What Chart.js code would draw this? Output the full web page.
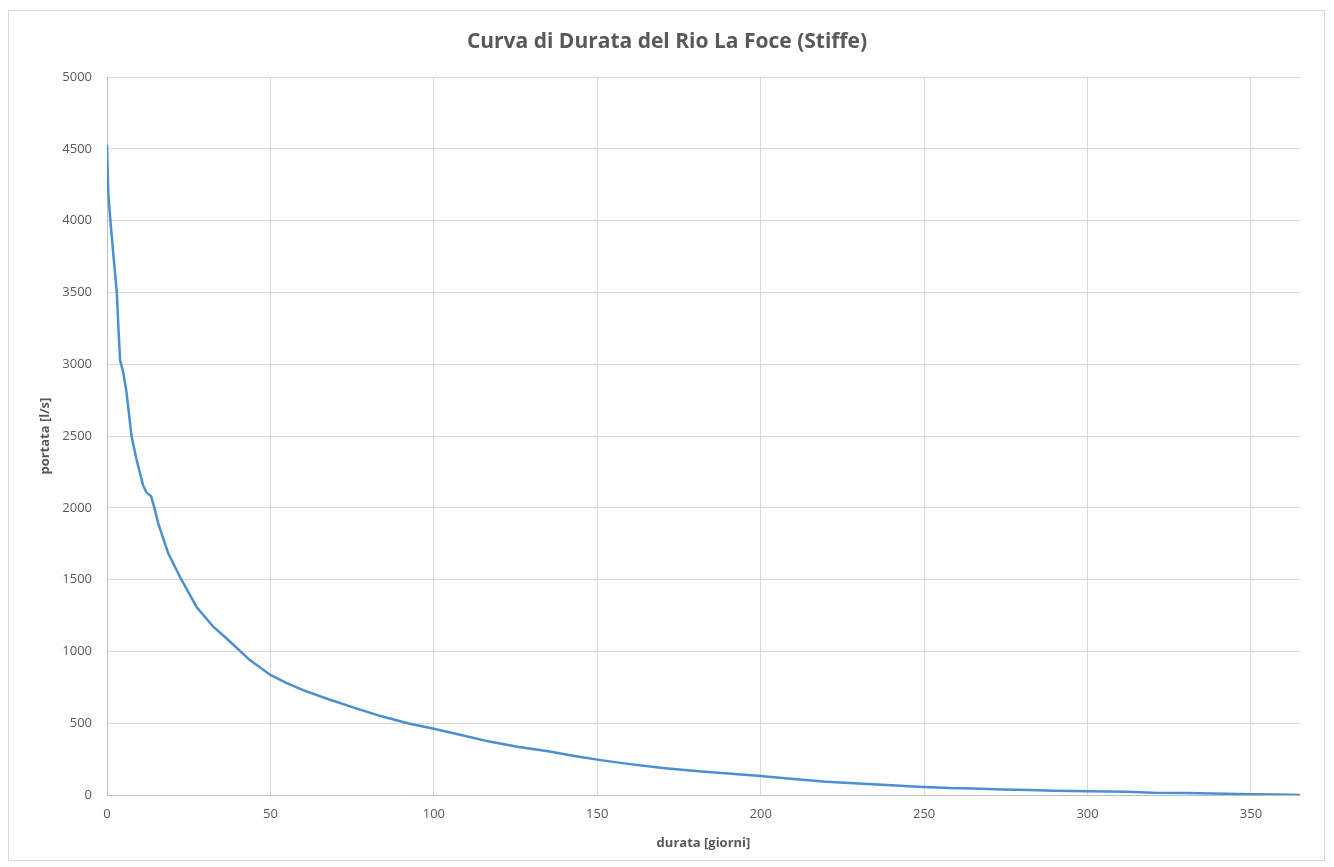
<!DOCTYPE html>
<html>
<head>
<meta charset="utf-8">
<script src="https://cdn.jsdelivr.net/npm/chart.js@4.4.1/dist/chart.umd.min.js"></script>
<style>
  html, body { margin: 0; padding: 0; background: #fff; }
  #wrap { position: relative; width: 1334px; height: 867px; }
  #frame { position: absolute; left: 8px; top: 10px; width: 1317px; height: 851px; border: 1px solid #d9d9d9; box-sizing: border-box; pointer-events: none; }
</style>
</head>
<body>
<div id="wrap">
  <canvas id="chart" width="1334" height="867"></canvas>
  <div id="frame"></div>
</div>
<script>
// durata [giorni] and portata [l/s]
const days = [0, 0.4, 1, 2, 3, 3.5, 4, 5, 6, 6.5, 7.5, 9, 11, 12, 13.5, 14.5, 15.7, 18.7, 22.3, 27.4,
  32.5, 36.6, 43.7, 50, 55, 60, 68, 76, 84, 92, 100, 108, 117, 126, 135, 143, 151, 160, 170, 181,
  190, 200, 210, 220, 230, 240, 248, 258, 265, 274, 282, 290, 300, 312, 320, 330, 342, 350, 358, 365];
const flow = [4530, 4190, 4010, 3750, 3500, 3250, 3030, 2940, 2800, 2700, 2500, 2340, 2160, 2110, 2080, 2000, 1890, 1685, 1520, 1310,
  1172, 1090, 940, 836, 780, 730, 665, 605, 548, 500, 462, 420, 372, 335, 305, 272, 243, 215, 188, 165,
  150, 132, 112, 92, 80, 68, 58, 48, 45, 38, 35, 30, 26, 22, 16, 14, 9, 6, 4, 0];

const xTicks = [0, 50, 100, 150, 200, 250, 300, 350];

const points = days.map((d, i) => ({ x: d, y: flow[i] }));

const textGrey = '#595959';

new Chart(document.getElementById('chart'), {
  type: 'line',
  data: {
    datasets: [{
      data: points,
      borderColor: '#4a8fd4',
      borderWidth: 2.5,
      pointRadius: 0,
      tension: 0,
      fill: false,
    }],
  },
  options: {
    responsive: false,
    animation: false,
    layout: { padding: { top: 10, right: 0, bottom: 0, left: 0 } },
    plugins: {
      legend: { display: false },
      tooltip: { enabled: false },
      title: {
        display: true,
        text: 'Curva di Durata del Rio La Foce (Stiffe)',
        color: textGrey,
        font: { family: 'Open Sans', size: 21, weight: 'bold' },
        padding: { top: 19, bottom: 23 },
      },
    },
    scales: {
      x: {
        type: 'linear',
        min: 0,
        max: 365,
        afterBuildTicks: (axis) => {
          axis.ticks = xTicks.map((v) => ({ value: v }));
        },
        afterFit: (axis) => { axis.height = 72; },
        grid: { color: '#d9d9d9', drawTicks: false },
        border: { color: '#bfbfbf' },
        ticks: {
          color: textGrey,
          padding: 11,
          maxRotation: 0,
          font: { family: 'Open Sans', size: 13 },
          callback: (v) => String(v),
        },
        title: {
          display: true,
          text: 'durata [giorni]',
          color: textGrey,
          font: { family: 'Open Sans', size: 13, weight: 'bold' },
          padding: { top: 6, bottom: 16 },
        },
      },
      y: {
        min: 0,
        max: 5000,
        afterFit: (axis) => { axis.width = 107; },
        grid: { color: '#d9d9d9', drawTicks: false },
        border: { color: '#bfbfbf' },
        ticks: {
          stepSize: 500,
          color: textGrey,
          padding: 15,
          font: { family: 'Open Sans', size: 13 },
          callback: (v) => String(v),
        },
        title: {
          display: true,
          text: 'portata [l/s]',
          color: textGrey,
          font: { family: 'Open Sans', size: 13, weight: 'bold' },
          padding: { top: 37, bottom: 0 },
        },
      },
      // empty right-hand margin so the title stays centred on the canvas
      yRight: {
        position: 'right',
        min: 0,
        max: 5000,
        afterFit: (axis) => { axis.width = 34; },
        grid: { display: false, drawTicks: false },
        border: { display: false },
        ticks: { display: false },
      },
    },
  },
});
</script>
</body>
</html>
